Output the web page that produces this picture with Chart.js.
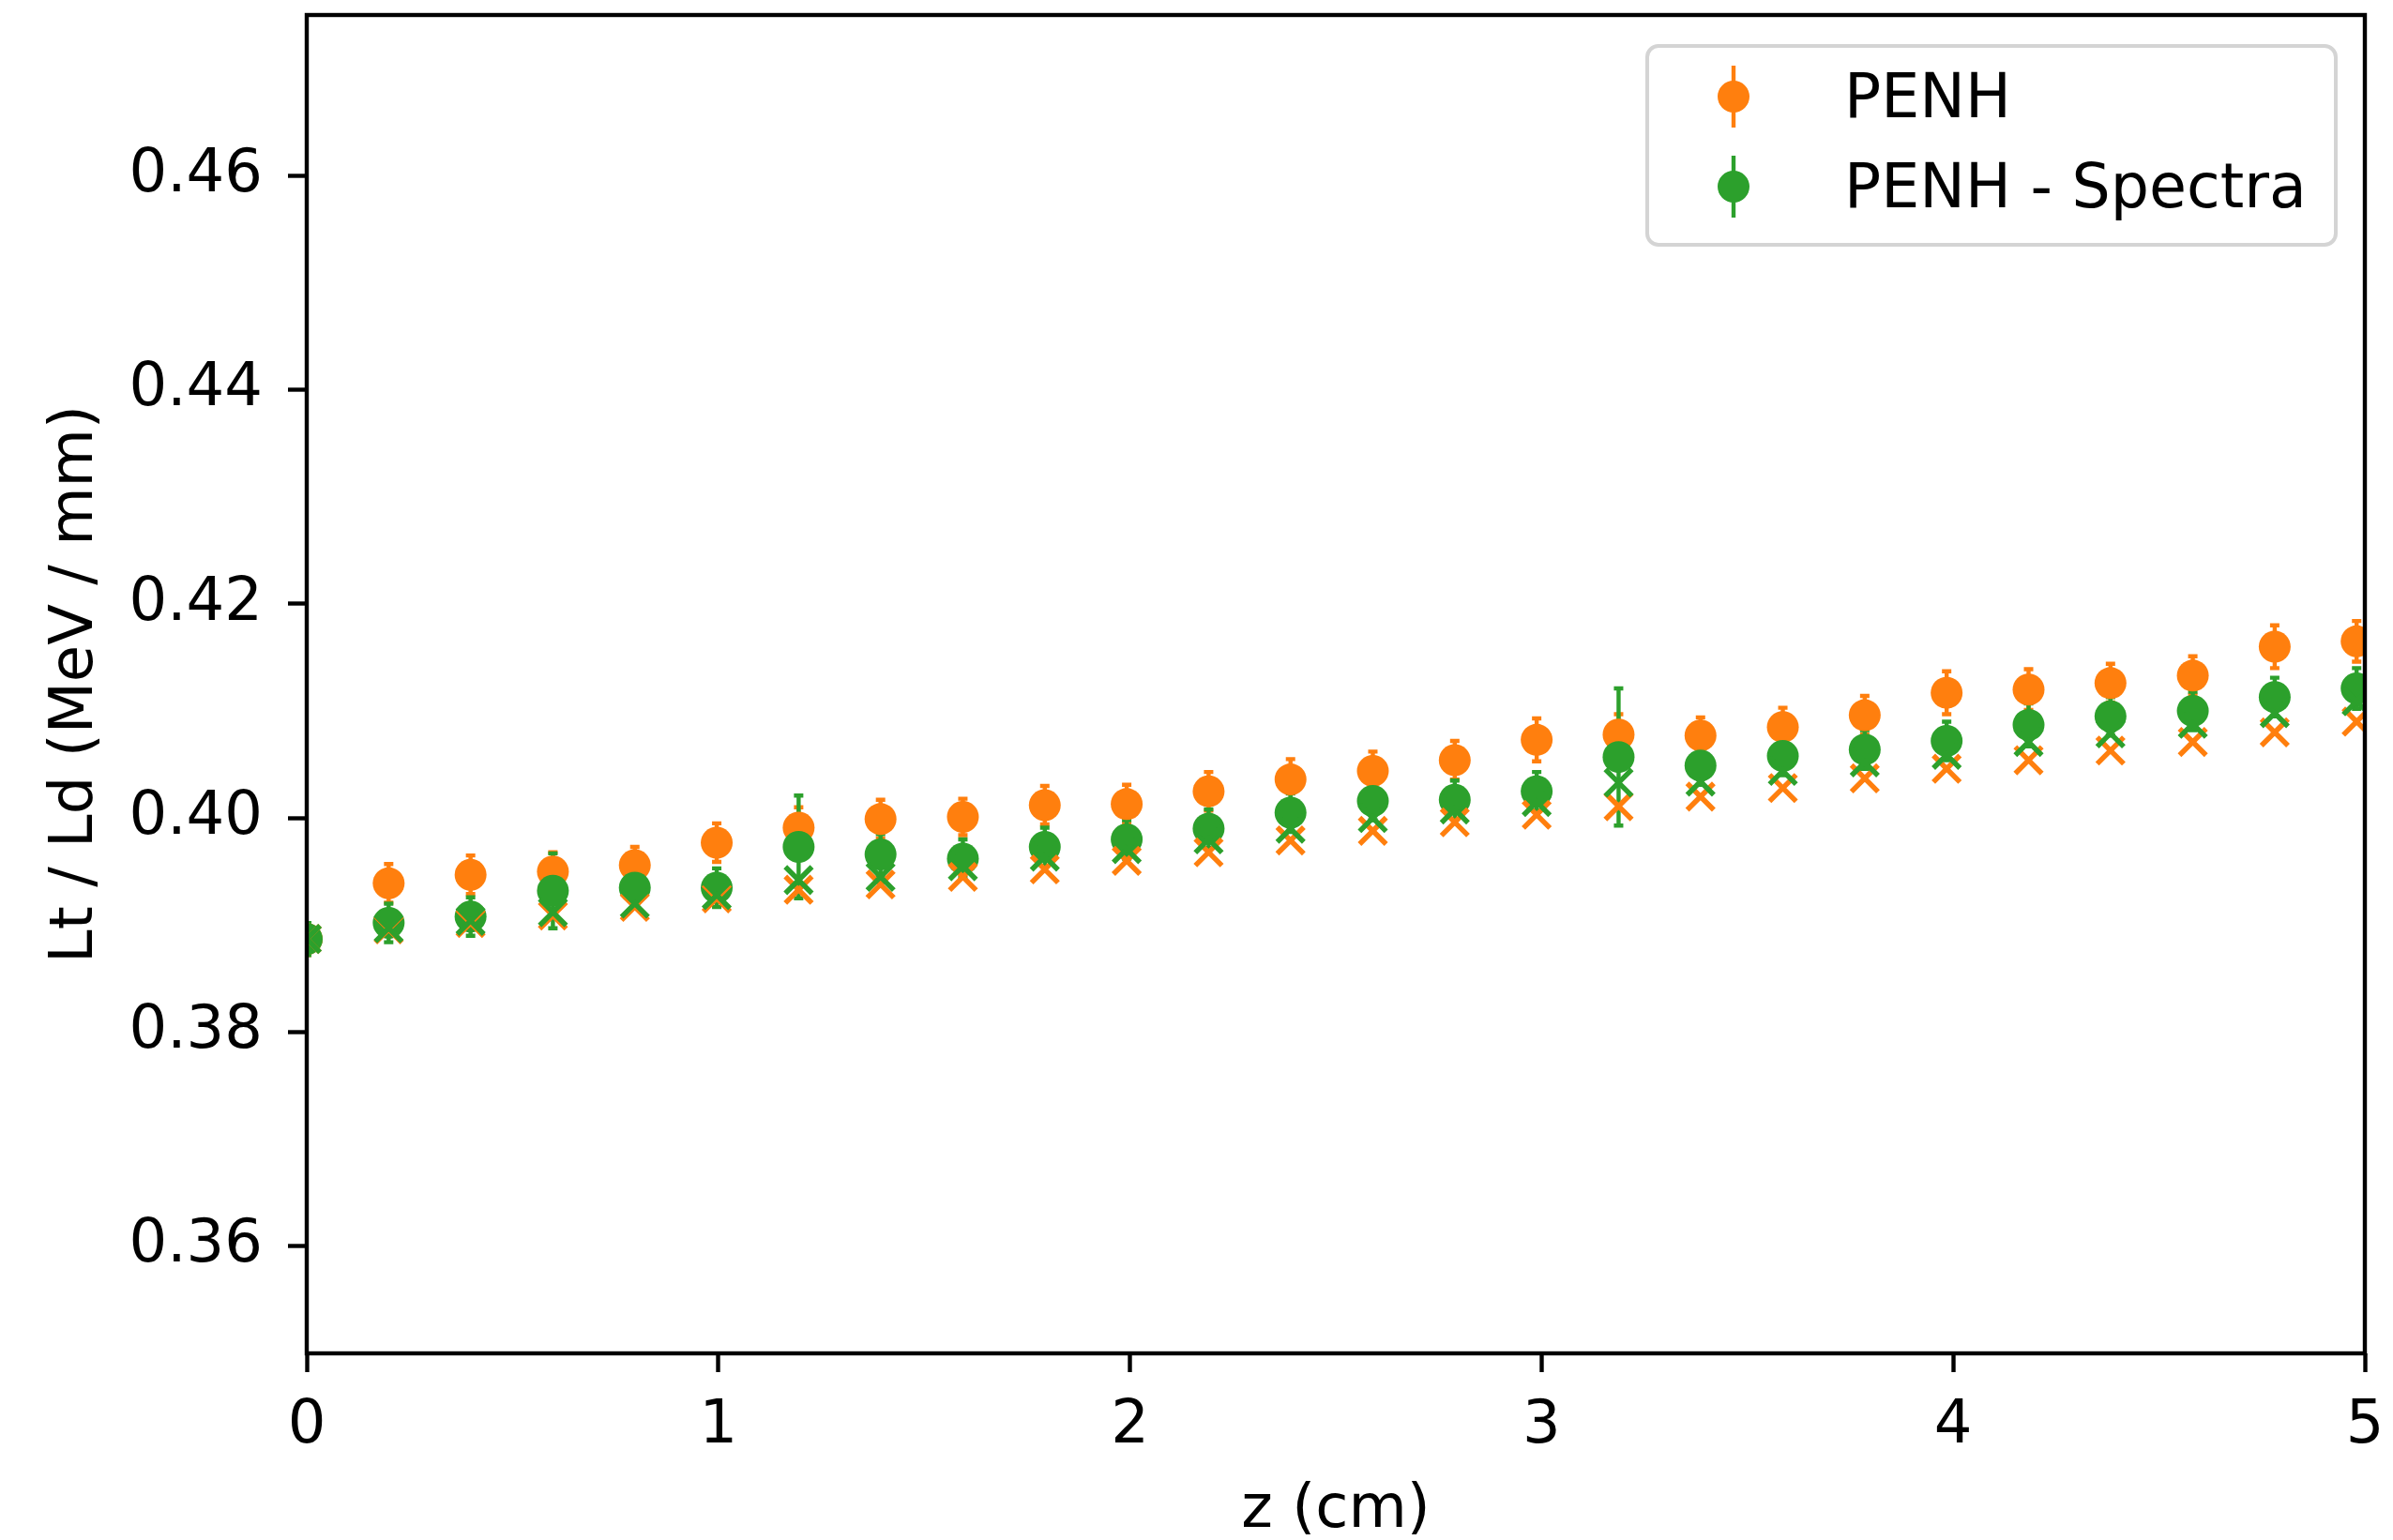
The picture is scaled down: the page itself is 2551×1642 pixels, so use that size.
<!DOCTYPE html>
<html>
<head>
<meta charset="utf-8">
<script src="https://cdn.jsdelivr.net/npm/chart.js@4.4.1/dist/chart.umd.min.js"></script>
<style>
  html, body { margin: 0; padding: 0; background: #fff; }
  canvas { display: block; }
</style>
</head>
<body>
<canvas id="grafico" width="2551" height="1642"></canvas>
<script>
// Lt / Ld ao longo de z - PENH vs PENH - Spectra
const zValores = [0, 0.199, 0.398, 0.598, 0.797, 0.996, 1.195, 1.394, 1.594, 1.793, 1.992, 2.191, 2.390,
  2.590, 2.789, 2.988, 3.187, 3.386, 3.586, 3.785, 3.984, 4.183, 4.382, 4.582, 4.781, 4.980];

const penh = [0.3887, 0.3939, 0.3947, 0.3950, 0.3956, 0.3977, 0.3991, 0.3999, 0.4001, 0.4012, 0.4013, 0.4025, 0.4036,
  0.4044, 0.4054, 0.4073, 0.4078, 0.4077, 0.4085, 0.4096, 0.4117, 0.4120, 0.4126, 0.4133, 0.4160, 0.4165];
const penhErro = [0.0015, 0.0018, 0.0018, 0.0018, 0.0017, 0.0018, 0.0019, 0.0018, 0.0017, 0.0018, 0.0018, 0.0018, 0.0019,
  0.0018, 0.0018, 0.0020, 0.0019, 0.0017, 0.0018, 0.0018, 0.0020, 0.0019, 0.0018, 0.0018, 0.0020, 0.0019];

const spectra = [0.3887, 0.3902, 0.3908, 0.3932, 0.3935, 0.3935, 0.3973, 0.3966, 0.3962, 0.3973, 0.3980, 0.3990, 0.4005,
  0.4016, 0.4017, 0.4025, 0.4057, 0.4049, 0.4058, 0.4064, 0.4072, 0.4087, 0.4095, 0.4100, 0.4113, 0.4121];
const spectraErro = [0.0015, 0.0018, 0.0018, 0.0035, 0.0018, 0.0018, 0.0048, 0.0019, 0.0018, 0.0018, 0.0018, 0.0018, 0.0018,
  0.0018, 0.0018, 0.0018, 0.0064, 0.0018, 0.0018, 0.0018, 0.0018, 0.0020, 0.0018, 0.0018, 0.0018, 0.0019];

// marcadores "x" (sem legenda)
const penhX = [0.3887, 0.3896, 0.3902, 0.3909, 0.3917, 0.3925, 0.3933, 0.3938, 0.3945, 0.3952, 0.3960, 0.3968, 0.3979,
  0.3988, 0.3996, 0.4003, 0.4011, 0.4020, 0.4028, 0.4037, 0.4046, 0.4054, 0.4063, 0.4071, 0.4080, 0.4090];
const spectraX = [0.3887, 0.3897, 0.3904, 0.3912, 0.3920, 0.3928, 0.3942, 0.3945, 0.3955, 0.3964, 0.3971, 0.3980, 0.3990,
  0.4000, 0.4008, 0.4015, 0.4033, 0.4034, 0.4044, 0.4052, 0.4059, 0.4071, 0.4079, 0.4088, 0.4098, 0.4109];

const xTicks = [0, 1, 2, 3, 4, 5];
const yTicks = [0.36, 0.38, 0.40, 0.42, 0.44, 0.46];

const LARANJA = "#ff7f0e";
const VERDE = "#2ca02c";
const FONTE = "'DejaVu Sans', sans-serif";
const AREA = { left: 327, top: 16, right: 2521, bottom: 1443 };

function pontos(ys) {
  return zValores.map((z, i) => ({ x: z, y: ys[i] }));
}

// fixa a área do gráfico como no original
const areaFixa = {
  id: "areaFixa",
  afterLayout(chart) {
    const a = chart.chartArea;
    Object.assign(a, AREA, { width: AREA.right - AREA.left, height: AREA.bottom - AREA.top });
    const { x, y } = chart.scales;
    y.top = AREA.top; y.bottom = AREA.bottom; y.height = AREA.bottom - AREA.top;
    y.left = 0; y.right = AREA.left; y.width = AREA.left;
    x.left = AREA.left; x.right = AREA.right; x.width = AREA.right - AREA.left;
    x.top = AREA.bottom; x.bottom = 1642; x.height = 1642 - AREA.bottom;
    [x, y].forEach(s => { s.configure(); s._labelItems = null; s._gridLineItems = null; });
  }
};

// barras de erro desenhadas antes dos marcadores
const barrasErro = {
  id: "barrasErro",
  beforeDatasetsDraw(chart) {
    const { ctx, chartArea, scales } = chart;
    ctx.save();
    ctx.beginPath();
    ctx.rect(chartArea.left, chartArea.top, chartArea.right - chartArea.left, chartArea.bottom - chartArea.top);
    ctx.clip();
    chart.data.datasets.forEach(ds => {
      if (!ds.erros) return;
      ctx.strokeStyle = ds.backgroundColor;
      ctx.lineWidth = 4.4;
      ds.data.forEach((p, i) => {
        const x = scales.x.getPixelForValue(p.x);
        const y1 = scales.y.getPixelForValue(p.y + ds.erros[i]);
        const y2 = scales.y.getPixelForValue(p.y - ds.erros[i]);
        ctx.beginPath();
        ctx.moveTo(x, y1); ctx.lineTo(x, y2);
        ctx.moveTo(x - 5, y1); ctx.lineTo(x + 5, y1);
        ctx.moveTo(x - 5, y2); ctx.lineTo(x + 5, y2);
        ctx.stroke();
      });
    });
    ctx.restore();
  }
};

// moldura dos eixos + legenda estilo matplotlib
const molduraLegenda = {
  id: "molduraLegenda",
  afterDraw(chart) {
    const { ctx, chartArea: a } = chart;
    ctx.save();
    ctx.strokeStyle = "#000";
    ctx.lineWidth = 4.4;
    ctx.strokeRect(a.left, a.top, a.right - a.left, a.bottom - a.top);

    const bx = 1756, by = 49, bw = 734, bh = 212, r = 12;
    ctx.beginPath();
    ctx.roundRect(bx, by, bw, bh, r);
    ctx.fillStyle = "rgba(255,255,255,0.8)";
    ctx.fill();
    ctx.strokeStyle = "#d4d4d4";
    ctx.lineWidth = 4;
    ctx.stroke();

    const itens = chart.data.datasets.filter(d => d.erros);
    itens.forEach((d, i) => {
      const cy = 103 + i * 96;
      ctx.strokeStyle = d.backgroundColor;
      ctx.lineWidth = 4.4;
      ctx.beginPath();
      ctx.moveTo(1848, cy - 33); ctx.lineTo(1848, cy + 33);
      ctx.stroke();
      ctx.fillStyle = d.backgroundColor;
      ctx.beginPath();
      ctx.arc(1848, cy, 17, 0, Math.PI * 2);
      ctx.fill();
      ctx.fillStyle = "#000";
      ctx.font = "65px " + FONTE;
      ctx.textBaseline = "alphabetic";
      ctx.textAlign = "left";
      ctx.fillText(d.label, 1966, cy + 22);
    });
    ctx.restore();
  }
};

const fonteEixo = { family: FONTE, size: 64 };

new Chart(document.getElementById("grafico"), {
  type: "scatter",
  data: {
    datasets: [
      { label: "PENH", data: pontos(penh), erros: penhErro, backgroundColor: LARANJA, borderColor: LARANJA,
        pointRadius: 17, pointBorderWidth: 0, order: 4, clip: 0 },
      { label: "PENH - Spectra", data: pontos(spectra), erros: spectraErro, backgroundColor: VERDE, borderColor: VERDE,
        pointRadius: 17, pointBorderWidth: 0, order: 3, clip: 0 },
      { label: "PENH x", data: pontos(penhX), pointStyle: "crossRot", backgroundColor: LARANJA, borderColor: LARANJA,
        pointRadius: 20, pointBorderWidth: 5.5, order: 2, clip: 0 },
      { label: "PENH - Spectra x", data: pontos(spectraX), pointStyle: "crossRot", backgroundColor: VERDE, borderColor: VERDE,
        pointRadius: 20, pointBorderWidth: 5.5, order: 1, clip: 0 }
    ]
  },
  options: {
    responsive: false,
    devicePixelRatio: 1,
    animation: false,
    layout: { padding: { top: 16, right: 30, left: 0, bottom: 0 } },
    plugins: { legend: { display: false }, tooltip: { enabled: false } },
    scales: {
      x: {
        type: "linear", min: 0, max: 5,
        afterBuildTicks: s => { s.ticks = xTicks.map(v => ({ value: v })); },
        grid: { drawOnChartArea: false, drawTicks: true, tickLength: 20, tickWidth: 4.4, tickColor: "#000" },
        border: { display: false },
        ticks: { color: "#000", font: fonteEixo, padding: 20, maxRotation: 0, callback: v => String(v) },
        title: { display: true, text: "z (cm)", color: "#000", font: fonteEixo, padding: { top: 0, bottom: -8 } }
      },
      y: {
        type: "linear", min: 0.35, max: 0.475,
        afterBuildTicks: s => { s.ticks = yTicks.map(v => ({ value: v })); },
        grid: { drawOnChartArea: false, drawTicks: true, tickLength: 20, tickWidth: 4.4, tickColor: "#000" },
        border: { display: false },
        ticks: { color: "#000", font: fonteEixo, padding: 27, callback: v => v.toFixed(2) },
        title: { display: true, text: "Lt / Ld (MeV / mm)", color: "#000", font: fonteEixo, padding: { top: 43, bottom: 0 } }
      }
    }
  },
  plugins: [areaFixa, barrasErro, molduraLegenda]
});
</script>
</body>
</html>
